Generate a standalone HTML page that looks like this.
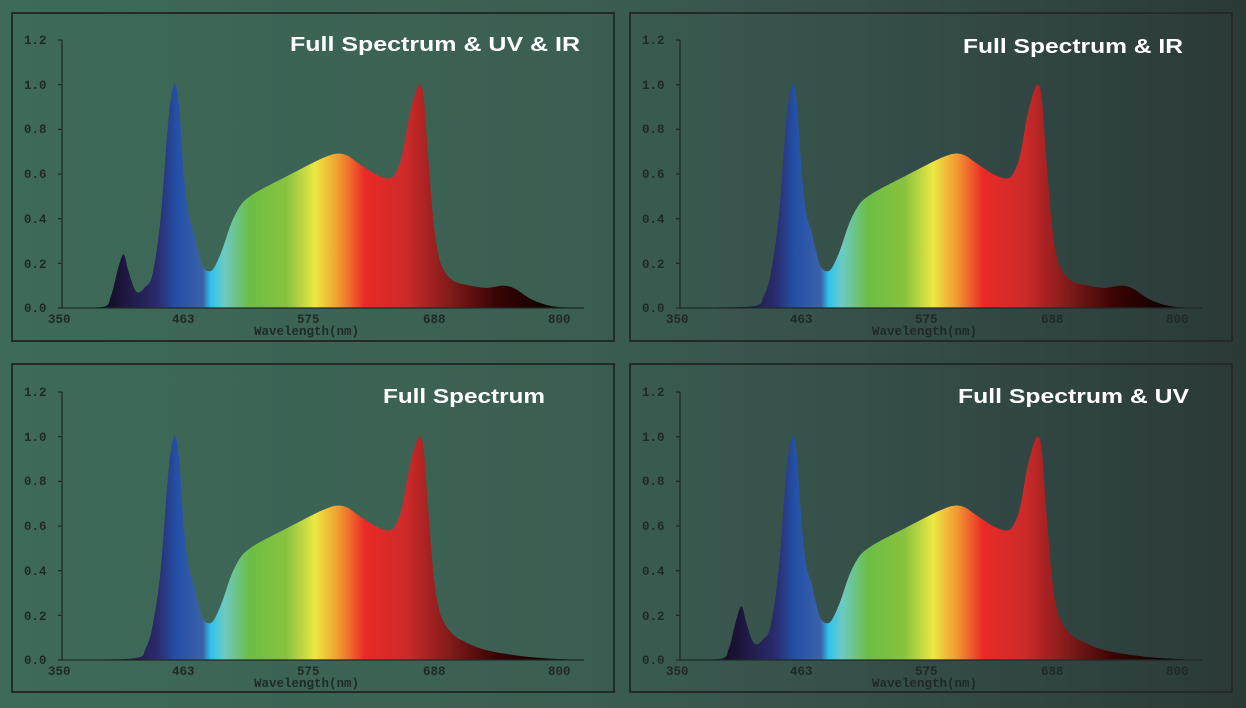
<!DOCTYPE html>
<html><head><meta charset="utf-8"><style>
html,body{margin:0;padding:0;width:1246px;height:708px;overflow:hidden}
body{background:linear-gradient(90deg,#3e6a59 0%,#3b5f52 45%,#344b47 75%,#2b3938 100%)}
svg{position:absolute;left:0;top:0}
.t{font-family:"Liberation Mono",monospace;font-weight:bold;font-size:12.5px;fill:#1f2a26}
.h{font-family:"Liberation Sans",sans-serif;font-weight:bold;font-size:20px;fill:#fff}
</style></head><body>
<svg width="1246" height="708" viewBox="0 0 1246 708">
<defs>
<linearGradient id="sp" x1="0" x2="1" y1="0" y2="0">
<stop offset="0" stop-color="#0a0a18"/>
<stop offset="0.08" stop-color="#120c24"/>
<stop offset="0.11" stop-color="#1c1438"/>
<stop offset="0.18" stop-color="#2a2a6a"/>
<stop offset="0.22" stop-color="#2450a8"/>
<stop offset="0.27" stop-color="#3a62aa"/>
<stop offset="0.285" stop-color="#2ec4ee"/>
<stop offset="0.31" stop-color="#6ccac4"/>
<stop offset="0.36" stop-color="#6cbe44"/>
<stop offset="0.43" stop-color="#88c23e"/>
<stop offset="0.485" stop-color="#ece844"/>
<stop offset="0.53" stop-color="#f29a30"/>
<stop offset="0.58" stop-color="#ea2a26"/>
<stop offset="0.66" stop-color="#cc2a2a"/>
<stop offset="0.75" stop-color="#7a1a18"/>
<stop offset="0.83" stop-color="#3a0404"/>
<stop offset="0.92" stop-color="#140000"/>
<stop offset="1" stop-color="#0a0000"/>
</linearGradient>
</defs>
<g fill="none" stroke="#252a28" stroke-width="2">
<rect x="12" y="13" width="602" height="328"/>
<rect x="630" y="13" width="602" height="328"/>
<rect x="12" y="364" width="602" height="328"/>
<rect x="630" y="364" width="602" height="328"/>
</g>
<g id="plots"></g>
<g class="t">
<g>
<text x="24" y="44">1.2</text><text x="24" y="89">1.0</text><text x="24" y="133">0.8</text><text x="24" y="178">0.6</text><text x="24" y="223">0.4</text><text x="24" y="268">0.2</text><text x="24" y="312">0.0</text>
<text x="48" y="323">350</text><text x="172" y="323">463</text><text x="297" y="323">575</text><text x="423" y="323">688</text><text x="548" y="323">800</text>
<text x="254" y="335">Wavelength(nm)</text>
</g>
<g transform="translate(618,0)">
<text x="24" y="44">1.2</text><text x="24" y="89">1.0</text><text x="24" y="133">0.8</text><text x="24" y="178">0.6</text><text x="24" y="223">0.4</text><text x="24" y="268">0.2</text><text x="24" y="312">0.0</text>
<text x="48" y="323">350</text><text x="172" y="323">463</text><text x="297" y="323">575</text><text x="423" y="323">688</text><text x="548" y="323">800</text>
<text x="254" y="335">Wavelength(nm)</text>
</g>
<g transform="translate(0,352)">
<text x="24" y="44">1.2</text><text x="24" y="89">1.0</text><text x="24" y="133">0.8</text><text x="24" y="178">0.6</text><text x="24" y="223">0.4</text><text x="24" y="268">0.2</text><text x="24" y="312">0.0</text>
<text x="48" y="323">350</text><text x="172" y="323">463</text><text x="297" y="323">575</text><text x="423" y="323">688</text><text x="548" y="323">800</text>
<text x="254" y="335">Wavelength(nm)</text>
</g>
<g transform="translate(618,352)">
<text x="24" y="44">1.2</text><text x="24" y="89">1.0</text><text x="24" y="133">0.8</text><text x="24" y="178">0.6</text><text x="24" y="223">0.4</text><text x="24" y="268">0.2</text><text x="24" y="312">0.0</text>
<text x="48" y="323">350</text><text x="172" y="323">463</text><text x="297" y="323">575</text><text x="423" y="323">688</text><text x="548" y="323">800</text>
<text x="254" y="335">Wavelength(nm)</text>
</g>
</g>
<text class="h" x="290" y="51" textLength="290" lengthAdjust="spacingAndGlyphs">Full Spectrum &amp; UV &amp; IR</text>
<text class="h" x="963" y="53" textLength="220" lengthAdjust="spacingAndGlyphs">Full Spectrum &amp; IR</text>
<text class="h" x="383" y="403" textLength="162" lengthAdjust="spacingAndGlyphs">Full Spectrum</text>
<text class="h" x="958" y="403" textLength="231" lengthAdjust="spacingAndGlyphs">Full Spectrum &amp; UV</text>
</svg>
<script>
(function(){
var base=[[350,0],[380,0.002],[415,0.01],[422,0.05],[428,0.15],[435,0.4],[441,0.8],[445,0.97],[448,1.0],[451,0.9],[455,0.6],[459,0.42],[463,0.35],[467,0.26],[471,0.19],[476,0.165],[481,0.18],[488,0.26],[496,0.38],[504,0.46],[512,0.5],[525,0.54],[540,0.58],[555,0.62],[570,0.66],[585,0.69],[595,0.685],[605,0.65],[620,0.6],[631,0.58],[637,0.6],[643,0.68],[649,0.85],[655,0.97],[659,1.0],[662,0.93],[666,0.65],[670,0.4],[674,0.25],[679,0.17]];
var uv=[[385,0.005],[392,0.05],[398,0.17],[403,0.24],[407,0.17],[412,0.09],[416,0.07],[421,0.09]];
var ir=[[688,0.12],[702,0.1],[716,0.09],[731,0.1],[741,0.085],[751,0.05],[761,0.025],[775,0.006],[800,0]];
var noir=[[688,0.11],[698,0.08],[712,0.05],[732,0.028],[760,0.01],[790,0.002],[800,0]];
function pts(u,i){
 var a=base.slice();
 if(u){a=a.filter(function(p){return p[0]<380||p[0]>=428}).concat(uv);}
 a=a.concat(i?ir:noir);
 a.sort(function(x,y){return x[0]-y[0]});return a;}
function path(a,x0,x1,y0,yt){
 var sx=function(l){return x0+(l-350)/450*(x1-x0)},sy=function(v){return y0-v/1.2*(y0-yt)};
 var P=a.map(function(p){return [sx(p[0]),sy(p[1])]});
 var d="M"+P[0][0]+","+y0+" L"+P[0][0]+","+P[0][1];
 for(var k=0;k<P.length-1;k++){
  var p0=P[Math.max(k-1,0)],p1=P[k],p2=P[k+1],p3=P[Math.min(k+2,P.length-1)];
  var c1=[p1[0]+(p2[0]-p0[0])/6,p1[1]+(p2[1]-p0[1])/6],c2=[p2[0]-(p3[0]-p1[0])/6,p2[1]-(p3[1]-p1[1])/6];
  c1[1]=Math.min(c1[1],y0);c2[1]=Math.min(c2[1],y0);
  d+=" C"+c1.join(",")+" "+c2.join(",")+" "+p2.join(",");}
 return d+" L"+P[P.length-1][0]+","+y0+" Z";}
var panels=[[62,584,308,40,1,1],[680,1202,308,40,0,1],[62,584,660,392,0,0],[680,1202,660,392,1,0]];
var g=document.getElementById("plots"),h="";
panels.forEach(function(p){
 var x0=p[0],x1=p[1],y0=p[2],yt=p[3];
 h+='<path d="'+path(pts(p[4],p[5]),x0,x1,y0,yt)+'" fill="url(#sp)"/>';
 h+='<g stroke="#222a27" stroke-width="1.3" fill="none"><path d="M'+x0+','+yt+' L'+x0+','+y0+' L'+x1+','+y0+'"/>';
 for(var i=0;i<=6;i++){var y=y0-i*(y0-yt)/6;h+='<path d="M'+(x0-4)+','+y+' L'+x0+','+y+'"/>';}
 h+='</g>';});
g.innerHTML=h;
})();
</script>
</body></html>
